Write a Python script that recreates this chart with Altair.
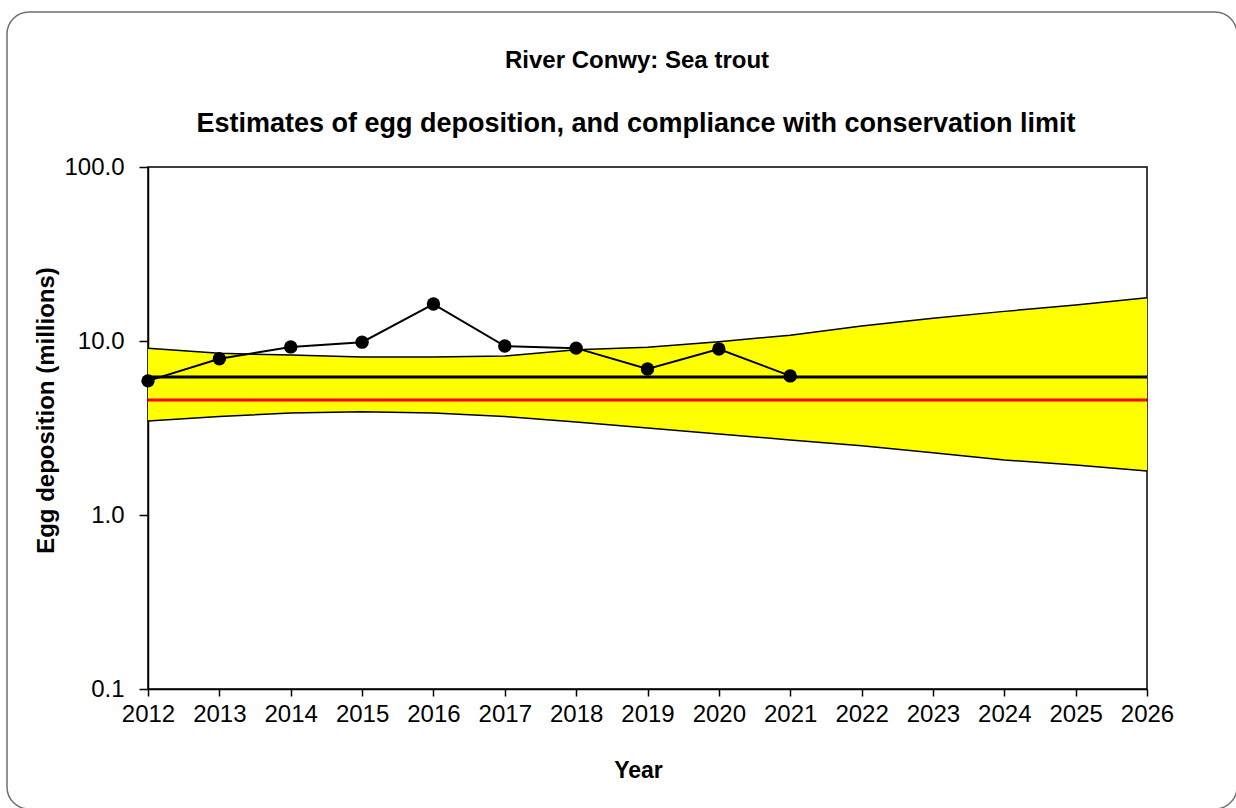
import altair as alt
import pandas as pd

years = list(range(2012, 2022))
eggs = [5.9, 7.9, 9.25, 9.85, 16.3, 9.35, 9.1, 6.9, 9.0, 6.3]

band_years = list(range(2012, 2027))
band_upper = [9.1, 8.5, 8.3, 8.1, 8.1, 8.2, 8.9, 9.2, 9.9, 10.8, 12.2, 13.5, 14.8, 16.1, 17.7]
band_lower = [3.47, 3.68, 3.86, 3.92, 3.86, 3.68, 3.42, 3.16, 2.92, 2.70, 2.50, 2.28, 2.07, 1.94, 1.79]

mean_level = 6.2
conservation_limit = 4.58

year_ticks = list(range(2012, 2027))
y_ticks = [0.1, 1.0, 10.0, 100.0]

title_lines = ["River Conwy: Sea trout",
               "Estimates of egg deposition, and compliance with conservation limit"]

W, H = 999, 522
FONT = "Liberation Sans"

df = pd.DataFrame({"Year": years, "Eggs": eggs})
band = pd.DataFrame({"Year": band_years, "Upper": band_upper, "Lower": band_lower})
lines = pd.DataFrame({
    "Year": [2012, 2026, 2012, 2026],
    "Value": [mean_level, mean_level, conservation_limit, conservation_limit],
    "Series": ["mean", "mean", "limit", "limit"],
})

xs = alt.Scale(domain=[2012, 2026], nice=False, zero=False)
ys = alt.Scale(type="log", domain=[0.1, 100], nice=False)

x_axis = alt.Axis(values=year_ticks, format="d", title="Year", grid=False,
                  labelFontSize=24, titleFontSize=23, titleFontWeight="bold",
                  labelFont=FONT, titleFont=FONT, tickSize=7, tickColor="black",
                  tickWidth=1.5, domainColor="black", domainWidth=1.5, labelColor="black",
                  titleColor="black", labelPadding=6, labelFlush=False,
                  titleX=490, titleY=88, titleBaseline="alphabetic", titleAlign="center")
y_axis = alt.Axis(values=y_ticks, format=".1f", title="Egg deposition  (millions)", grid=False,
                  labelFontSize=24, titleFontSize=24, titleFontWeight="bold",
                  labelFont=FONT, titleFont=FONT, tickSize=9, tickColor="black",
                  tickWidth=1.5, domainColor="black", domainWidth=1.5, labelColor="black",
                  titleColor="black", labelPadding=15,
                  titleX=-102, titleY=243, titleBaseline="middle", titleAlign="center",
                  titleAngle=270)

area = alt.Chart(band).mark_area(color="#ffff00", opacity=1).encode(
    x=alt.X("Year:Q", scale=xs, axis=x_axis),
    y=alt.Y("Upper:Q", scale=ys, axis=y_axis),
    y2="Lower:Q",
)
upper = alt.Chart(band).mark_line(color="black", strokeWidth=1.5).encode(
    x=alt.X("Year:Q", scale=xs), y=alt.Y("Upper:Q", scale=ys))
lower = alt.Chart(band).mark_line(color="black", strokeWidth=1.5).encode(
    x=alt.X("Year:Q", scale=xs), y=alt.Y("Lower:Q", scale=ys))

hlines = alt.Chart(lines).mark_line(strokeWidth=3).encode(
    x=alt.X("Year:Q", scale=xs),
    y=alt.Y("Value:Q", scale=ys),
    detail="Series:N",
    color=alt.Color("Series:N", scale=alt.Scale(domain=["mean", "limit"], range=["black", "#ff0000"]), legend=None),
)

data_line = alt.Chart(df).mark_line(color="black", strokeWidth=2).encode(
    x=alt.X("Year:Q", scale=xs), y=alt.Y("Eggs:Q", scale=ys))
data_pts = alt.Chart(df).mark_circle(color="black", size=180, opacity=1).encode(
    x=alt.X("Year:Q", scale=xs), y=alt.Y("Eggs:Q", scale=ys))

one = pd.DataFrame({"a": [0]})
border = alt.Chart(one).mark_rect(
    fill=None, stroke="#6f6f6f", strokeWidth=1.5, cornerRadius=22, clip=False
).encode(
    x=alt.value(-141), x2=alt.value(1237 - 148),
    y=alt.value(-155), y2=alt.value(809 - 167),
)

title1 = alt.Chart(one).mark_text(
    text=title_lines[0], font=FONT, fontSize=24, fontWeight="bold", color="black",
    align="center", baseline="alphabetic", clip=False,
).encode(x=alt.value(489), y=alt.value(-99))
title2 = alt.Chart(one).mark_text(
    text=title_lines[1], font=FONT, fontSize=27, fontWeight="bold", color="black",
    align="center", baseline="alphabetic", clip=False,
).encode(x=alt.value(488), y=alt.value(-35))

chart = alt.layer(area, upper, lower, hlines, data_line, data_pts, border, title1, title2).properties(
    width=W, height=H,
    padding={"left": 148, "top": 167, "right": 89, "bottom": 119},
    autosize=alt.AutoSizeParams(type="none"),
    background="white",
).configure_view(stroke="black", strokeWidth=1.5)

chart.save("out.html", embed_options={"renderer": "svg", "actions": False})
